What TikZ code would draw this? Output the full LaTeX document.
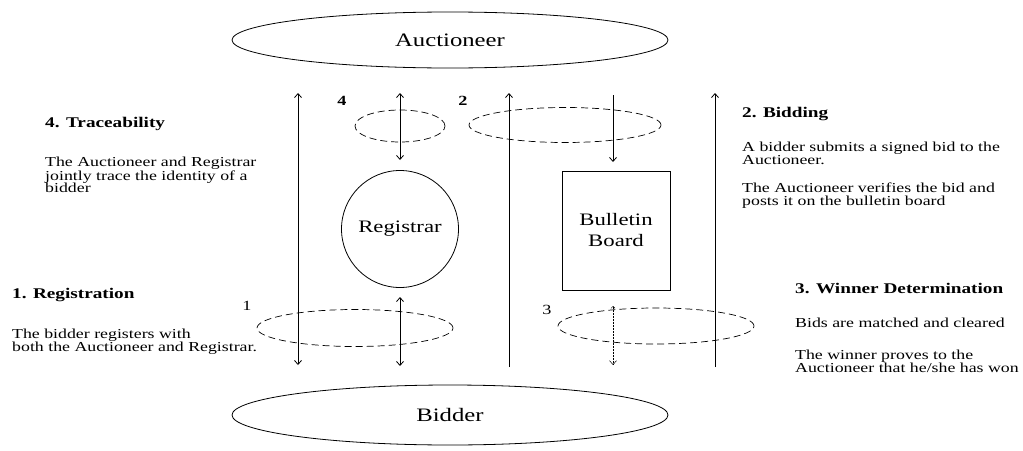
\documentclass[tikz,border=0pt]{standalone}
\usepackage{fontspec}
\setmainfont{Liberation Serif}[FakeStretch=1.3]
\usetikzlibrary{shapes.geometric,arrows.meta}

\begin{document}
\begin{tikzpicture}[x=1pt,y=-1pt,
  party/.style={draw,ellipse,line width=0.8pt,inner sep=0pt,font=\fontsize{19}{19}\selectfont},
  phase/.style={draw,ellipse,dash pattern=on 7pt off 4pt,line width=0.7pt,inner sep=0pt},
  tip/.tip={Straight Barb[length=4pt,width=7pt]},
  flow/.style={line width=0.8pt,-tip},
  both/.style={line width=0.8pt,tip-tip},
  heading/.style={anchor=base west,inner sep=0pt,font=\bfseries\fontsize{14.8}{15}\selectfont},
  body/.style={anchor=north west,inner sep=0pt,align=left,font=\fontsize{13.7}{12.5}\selectfont},
  stepnum/.style={inner sep=0pt,font=\fontsize{14}{14}\selectfont}
]
\useasboundingbox (0,0) rectangle (1023,450);

% parties
\node[party,minimum width=436pt,minimum height=56pt] (auct) at (450,40) {Auctioneer};
\node[party,minimum width=436pt,minimum height=60pt] (bidder) at (450,415) {Bidder};
\node[draw,circle,minimum size=117pt,inner sep=0pt,line width=0.8pt,
      font=\fontsize{17.5}{17.5}\selectfont] (reg) at (400,229) {Registrar};
\node[draw,rectangle,minimum width=108pt,minimum height=119pt,align=center,
      line width=0.8pt,font=\fontsize{17.5}{21}\selectfont] (bb) at (616,230.5) {Bulletin\\Board};

% protocol phases
\node[phase,minimum width=90pt,minimum height=32pt] (p4) at (400,126) {};
\node[phase,minimum width=192pt,minimum height=35pt] (p2) at (565,125) {};
\node[phase,minimum width=196pt,minimum height=37pt] (p1) at (355,328) {};
\node[phase,minimum width=196pt,minimum height=36pt] (p3) at (656,326) {};

% message end points
\coordinate (a1) at (298,93);   \coordinate (b1) at (298,365);
\coordinate (a2) at (400,93);   \coordinate (b2) at (400,160);
\coordinate (a3) at (509,93);   \coordinate (b3) at (509,367);
\coordinate (a4) at (613,95);   \coordinate (b4) at (613,162);
\coordinate (a5) at (715,93);   \coordinate (b5) at (715,367);
\coordinate (a6) at (400,297);  \coordinate (b6) at (400,366);
\coordinate (a7) at (613,306);  \coordinate (b7) at (613,365);

\draw[both] (a1) -- (b1);
\draw[both] (a2) -- (b2);
\draw[flow] (b3) -- (a3);
\draw[flow] (a4) -- (b4);
\draw[flow] (b5) -- (a5);
\draw[both] (a6) -- (b6);
\draw[line width=0.5pt,densely dotted,{Straight Barb[length=2pt,width=4pt]}-tip] (a7) -- (b7);

% phase numbers
\node[stepnum,font=\bfseries\fontsize{14}{14}\selectfont] (n4) at (342,101) {4};
\node[stepnum,font=\bfseries\fontsize{14}{14}\selectfont] (n2) at (463,101) {2};
\node[stepnum] (n1) at (247,306) {1};
\node[stepnum] (n3) at (547,310) {3};

% descriptions
\node[heading] (h4) at (45,127) {4. Traceability};
\node[body] (t4) at (45,157) {The Auctioneer and Registrar\\jointly trace the identity of a\\bidder};

\node[heading] (h1) at (12,298) {1. Registration};
\node[body] (t1) at (12,329) {The bidder registers with\\both the Auctioneer and Registrar.};

\node[heading] (h2) at (742,117) {2. Bidding};
\node[body] (t2a) at (742,142) {A bidder submits a signed bid to the\\Auctioneer.};
\node[body] (t2b) at (742,183) {The Auctioneer verifies the bid and\\posts it on the bulletin board};

\node[heading] (h3) at (795,293) {3. Winner Determination};
\node[body] (t3a) at (795,318) {Bids are matched and cleared};
\node[body] (t3b) at (795,350) {The winner proves to the\\Auctioneer that he/she has won};
\end{tikzpicture}
\end{document}
